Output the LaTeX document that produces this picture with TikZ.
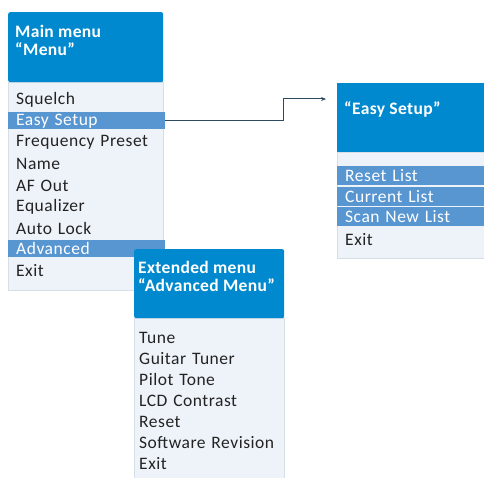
\documentclass[tikz,border=0pt]{standalone}
\usepackage{fontspec}
\setmainfont{Carlito}
\newfontfamily\itemfont[LetterSpace=3]{Carlito}
\newfontfamily\hdrfont[LetterSpace=2]{Carlito}
\usetikzlibrary{arrows.meta}
\definecolor{hdrblue}{RGB}{0,137,206}
\definecolor{barblue}{RGB}{88,150,210}
\definecolor{bodybg}{RGB}{238,243,250}
\definecolor{bodyline}{RGB}{214,222,232}
\definecolor{arrowcol}{RGB}{45,75,95}
\definecolor{txt}{RGB}{35,35,35}
\tikzset{
  body/.style={fill=bodybg, draw=bodyline, line width=0.6pt},
  hdr/.style={fill=hdrblue, draw=none},
  hdrtext/.style={anchor=north west, inner sep=0pt, text=white, align=left,
    font=\hdrfont\fontsize{17.5}{18}\selectfont\bfseries},
  item/.style={anchor=west, inner xsep=8pt, inner ysep=0pt, minimum height=17pt,
    text=txt, font=\itemfont\fontsize{17.5}{19}\selectfont},
  sel/.style={fill=barblue, text=white},
  link/.style={draw=arrowcol, line width=1pt, -{Stealth[length=5pt,width=4pt]}}
}
\begin{document}
\begin{tikzpicture}[x=1pt,y=-1pt]
\useasboundingbox (0,0) rectangle (484,478);
% ---------- Main menu ----------
\node[body, anchor=north west, minimum width=155pt, minimum height=208pt] (mainbody) at (8,82) {};
\node[hdr, anchor=north west, minimum width=155pt, minimum height=70pt, rounded corners=2pt] (mainhdr) at (8,12) {};
\node[hdrtext] (maintitle) at (15,25) {Main menu\\“Menu”};
\node[item, text width=141pt] (m1) at (8,100) {Squelch};
\node[item, sel, text width=141pt] (m2) at (8,121) {Easy Setup};
\node[item, text width=141pt] (m3) at (8,142.5) {Frequency Preset};
\node[item, text width=141pt] (m4) at (8,164) {Name};
\node[item, text width=141pt] (m5) at (8,185.5) {AF Out};
\node[item, text width=141pt] (m6) at (8,207) {Equalizer};
\node[item, text width=141pt] (m7) at (8,228.5) {Auto Lock};
\node[item, sel, text width=141pt] (m8) at (8,248.5) {Advanced};
\node[item, text width=141pt] (m9) at (8,270.5) {Exit};
% ---------- Easy Setup ----------
\node[body, anchor=north west, minimum width=148pt, minimum height=106pt] (esbody) at (337,152) {};
\node[hdr, anchor=north west, minimum width=148pt, minimum height=69pt] (eshdr) at (337,83) {};
\node[hdrtext] (estitle) at (344,101) {“Easy Setup”};
\node[item, sel, text width=132pt, minimum height=19pt] (e1) at (337,175.5) {Reset List};
\node[item, sel, text width=132pt, minimum height=19pt] (e2) at (337,196.5) {Current List};
\node[item, sel, text width=132pt, minimum height=19pt] (e3) at (337,217) {Scan New List};
\node[item, text width=132pt] (e4) at (337,239.5) {Exit};
% ---------- Advanced ----------
\node[body, anchor=north west, minimum width=150pt, minimum height=160pt] (advbody) at (134,318) {};
\node[hdr, anchor=north west, minimum width=150pt, minimum height=69pt, rounded corners=2pt] (advhdr) at (134,249) {};
\node[hdrtext] (advtitle) at (138,261) {Extended menu\\“Advanced Menu”};
\node[item, text width=136pt, inner xsep=5pt] (a1) at (134,338) {Tune};
\node[item, text width=136pt, inner xsep=5pt] (a2) at (134,358.5) {Guitar Tuner};
\node[item, text width=136pt, inner xsep=5pt] (a3) at (134,379.5) {Pilot Tone};
\node[item, text width=136pt, inner xsep=5pt] (a4) at (134,400.5) {LCD Contrast};
\node[item, text width=136pt, inner xsep=5pt] (a5) at (134,421.5) {Reset};
\node[item, text width=136pt, inner xsep=5pt] (a6) at (134,442.5) {Software Revision};
\node[item, text width=136pt, inner xsep=5pt] (a7) at (134,464) {Exit};
% ---------- connector ----------
\coordinate (tip) at (326,99);
\draw[link] (m2.east) -- ++(118,0) |- (tip);
\end{tikzpicture}
\end{document}
